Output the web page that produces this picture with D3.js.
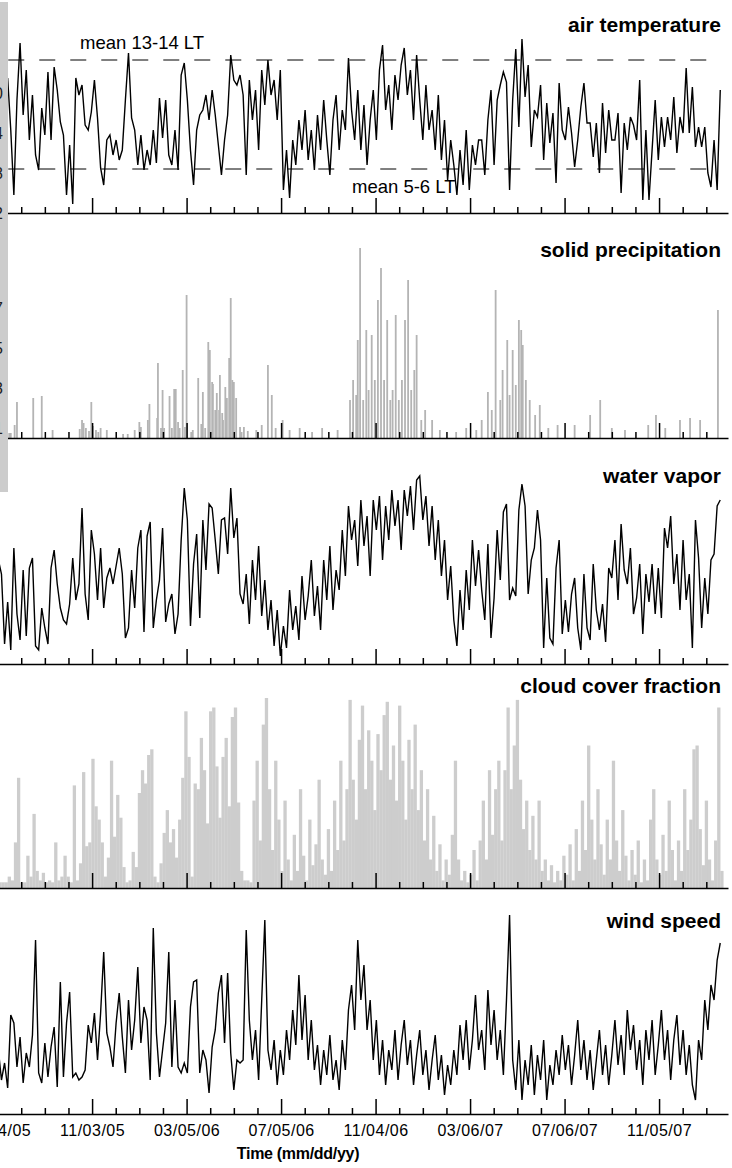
<!DOCTYPE html>
<meta charset="utf-8">

<!-- Load d3.js -->
<script src="https://d3js.org/d3.v7.min.js"></script>

<style>
  body { margin: 0; background: #fff; }
  svg text { font-family: "Liberation Sans", Arial, sans-serif; }
</style>

<!-- Create a div where the graph will take place -->
<div id="my_dataviz"></div>

<script>

// one sample every 4 days, first sample on 07/01/05
var startDate = "2005-07-01";
var stepDays = 4;

// air temperature (deg C)
var airTemp = [
  -2.7, -4.7, -1.7, -3.7, 1.5, -3.7, -10.2, -0.7, 5.0, -2.2,
  2.3, -4.7, -0.2, -6.2, -7.7, -1.5, -4.2, 2.1, -4.7, 2.6,
  0.3, -2.9, -4.2, -10.2, -5.2, -11.1, 1.5, -0.2, 0.8, -3.2,
  -3.7, -1.9, 1.3, -2.5, -7.5, -9.2, -4.7, -4.2, -6.2, -4.7,
  -6.7, -5.7, -0.7, 4.0, -2.5, -3.7, -7.2, -4.2, -7.7, -5.7,
  -7.2, -3.7, -7.0, -0.5, -4.5, -0.7, -6.2, -7.2, -3.7, -7.7,
  1.8, 3.0, -0.7, -5.7, -9.2, -3.7, -2.2, -1.7, -0.2, -2.7,
  0.3, -2.2, -5.2, -8.2, -4.7, -2.2, 3.8, 1.3, 0.8, 1.8,
  -0.2, -8.2, 1.3, -2.7, 0.3, -5.7, 2.3, -1.2, 3.3, -0.2,
  1.3, -2.7, 2.3, -9.7, -5.7, -10.5, -4.7, -7.2, -2.7, -5.7,
  -1.7, -6.7, -3.7, -7.7, -2.2, -5.7, -0.7, -4.7, -8.2, -2.7,
  -0.2, -5.7, -1.7, -3.7, 3.5, -1.7, -4.7, 0.3, -5.7, -1.2,
  -7.2, -2.7, 0.3, -4.7, 2.3, 4.8, -1.7, 0.8, -3.7, 1.8,
  -0.7, 2.8, 4.5, -0.2, 2.3, -2.7, 3.8, -0.7, -4.7, 0.8,
  -3.7, -1.7, -5.7, -0.2, -6.7, -2.7, -8.7, -4.7, -7.2, -10.2,
  -5.7, -9.2, -3.7, -9.7, -5.2, -7.2, -4.7, -4.7, -8.2, -2.7,
  0.3, -7.2, -0.7, 0.8, 2.1, 1.1, -9.7, -0.7, 4.4, -3.4,
  5.4, -0.4, 2.8, -5.4, -1.7, -2.4, 0.8, -6.7, -1.0, -5.0,
  -2.0, -9.0, 1.0, -3.7, -4.7, -1.4, -4.0, -7.4, -4.7, -1.4,
  1.0, -3.0, -3.0, -6.4, -3.0, -8.0, -1.0, -6.0, -1.7, -4.7,
  -4.7, -2.0, -10.0, -3.0, -5.7, -2.4, -3.2, -4.7, 1.3, -10.7,
  -3.7, -10.7, -5.7, -0.7, -6.7, -2.4, -5.4, -2.4, -4.7, -0.4,
  -6.0, -2.4, -4.0, 2.5, -4.0, 0.6, -5.4, -3.4, -5.4, -3.4,
  -8.0, -9.4, -4.7, -9.7, 0.3
];
var meanAfternoon = 3.3;   // mean 13-14 LT
var meanMorning = -7.6;    // mean 5-6 LT

// solid precipitation events: day after 07/01/05 and amount
var snowDay = [
  18, 20, 25, 28, 49, 60, 74, 109, 112, 114, 117, 121, 124, 126, 130, 133, 136, 144,
  165, 171, 180, 186, 188, 197, 199, 209, 210, 214, 216, 218, 225, 228, 231, 233, 236,
  238, 242, 245, 247, 253, 255, 262, 266, 268, 271, 275, 277, 280, 281, 284, 286, 289,
  290, 293, 294, 297, 299, 302, 304, 306, 308, 311, 316, 318, 321, 326, 337, 344, 352,
  357, 362, 371, 380, 393, 409, 422, 442, 458, 462, 466, 468, 471, 475, 479, 482, 486,
  490, 494, 498, 502, 506, 510, 513, 517, 521, 525, 529, 533, 537, 541, 544, 550, 555,
  564, 574, 595, 608, 621, 628, 636, 641, 646, 652, 655, 661, 664, 668, 672, 676, 679,
  681, 685, 690, 697, 703, 714, 726, 748, 768, 781, 796, 813, 843, 853, 865, 884, 897,
  910, 933
];
var snowAmount = [
  0.25, 0.25, 0.65, 1.8, 2.0, 2.1, 0.4, 0.45, 0.9, 0.75, 0.5, 0.35, 1.8, 0.6, 0.4, 0.3, 0.5, 0.4,
  0.2, 0.2, 0.4, 0.8, 0.55, 0.9, 1.7, 1.0, 3.75, 0.5, 2.4, 0.5, 2.1, 0.5, 2.45, 2.45, 0.8,
  0.5, 3.4, 0.55, 7.15, 0.3, 0.4, 3.0, 0.7, 2.3, 0.5, 4.8, 4.4, 2.8, 2.7, 1.4, 2.25, 1.4,
  3.15, 1.25, 0.9, 2.55, 2.0, 4.0, 7.0, 2.9, 2.8, 2.0, 0.55, 0.3, 0.55, 0.35, 0.4, 0.65, 3.65,
  2.15, 0.5, 0.9, 0.4, 0.5, 0.3, 0.5, 0.4, 1.9, 2.9, 2.15, 4.9, 9.5, 1.9, 5.4, 2.4, 5.15,
  2.9, 6.9, 8.5, 2.9, 5.9, 1.9, 2.4, 6.15, 1.9, 2.9, 5.9, 7.9, 2.4, 3.4, 5.15, 0.9, 1.4,
  0.9, 0.4, 0.3, 0.5, 0.4, 0.9, 2.3, 1.4, 7.4, 1.9, 3.4, 4.9, 2.15, 4.4, 2.65, 5.9, 5.4,
  4.65, 2.9, 1.9, 1.15, 1.65, 0.5, 0.65, 0.65, 1.15, 1.9, 0.5, 0.4, 0.65, 1.15, 0.5, 0.9, 1.0,
  0.9, 6.4
];

// water vapor (g/kg)
var waterVapor = [
  3.2, 5.2, 4.5, 1.0, 3.1, 0.7, 5.8, 2.5, 1.2, 4.7,
  1.4, 4.8, 5.3, 0.9, 0.7, 2.8, 1.8, 1.0, 4.8, 5.7,
  4.0, 2.8, 2.2, 2.0, 3.0, 5.3, 3.2, 4.0, 7.8, 3.5,
  2.2, 6.7, 5.5, 3.2, 5.8, 2.8, 4.3, 4.8, 4.0, 4.9,
  5.8, 4.5, 1.3, 1.8, 4.7, 2.8, 5.8, 6.7, 1.6, 6.4,
  7.1, 1.8, 3.2, 4.2, 6.8, 2.1, 3.0, 3.5, 1.5, 2.5,
  6.2, 8.8, 7.2, 1.9, 5.0, 6.5, 2.3, 7.2, 4.7, 8.0,
  7.8, 6.2, 4.5, 7.2, 7.3, 5.5, 8.8, 6.3, 7.3, 3.5,
  3.0, 4.5, 2.0, 5.2, 3.2, 5.9, 2.4, 4.2, 1.7, 3.2,
  0.9, 2.7, 0.4, 1.9, 0.8, 3.7, 1.7, 2.9, 1.2, 4.4,
  2.2, 3.4, 5.2, 2.4, 3.9, 1.7, 5.2, 3.2, 5.9, 2.7,
  4.7, 3.7, 6.7, 4.4, 7.9, 6.2, 7.2, 4.9, 8.2, 5.9,
  7.4, 4.4, 8.2, 6.7, 8.4, 5.2, 7.9, 6.2, 8.7, 6.9,
  8.2, 5.7, 8.7, 7.4, 8.9, 6.7, 9.2, 9.4, 7.2, 8.4,
  5.9, 7.9, 5.2, 7.2, 4.4, 6.2, 3.2, 4.9, 2.2, 0.9,
  3.7, 1.7, 4.7, 2.7, 6.2, 3.9, 5.7, 3.7, 2.2, 6.0,
  1.3, 3.3, 6.7, 4.2, 7.6, 8.0, 3.2, 3.8, 3.4, 7.7,
  9.0, 7.9, 3.5, 5.2, 5.8, 7.7, 6.2, 0.8, 4.3, 1.3,
  1.0, 4.8, 6.2, 1.5, 3.2, 1.6, 3.5, 4.3, 1.8, 0.7,
  4.5, 1.8, 1.2, 5.0, 2.7, 1.7, 3.0, 1.1, 4.8, 4.3,
  6.2, 3.2, 7.0, 4.7, 4.0, 5.8, 2.5, 3.3, 5.0, 1.5,
  4.5, 3.1, 5.0, 2.5, 4.8, 2.3, 6.8, 5.8, 7.4, 4.0,
  5.5, 2.7, 6.2, 3.2, 4.5, 0.8, 7.2, 5.3, 1.8, 4.3,
  2.5, 5.2, 5.5, 7.9, 8.2
];

// cloud cover fraction (0-1)
var cloudCover = [
  .04, .03, .03, .03, .06, .04, .24, .58, .03, .03,
  .17, .06, .39, .09, .04, .08, .03, .04, .03, .24,
  .04, .06, .17, .06, .03, .54, .04, .13, .61, .22,
  .24, .68, .43, .36, .24, .06, .16, .67, .27, .49,
  .37, .11, .03, .04, .19, .11, .50, .62, .55, .70,
  .73, .06, .03, .13, .29, .41, .24, .31, .16, .36,
  .58, .93, .69, .06, .55, .52, .79, .62, .34, .93,
  .95, .64, .37, .69, .79, .43, .90, .95, .45, .09,
  .04, .04, .03, .46, .67, .25, .86, 1.0, .52, .20,
  .67, .36, .09, .46, .15, .04, .28, .09, .52, .17,
  .04, .36, .12, .23, .57, .15, .07, .31, .09, .46,
  .20, .67, .25, .52, .99, .57, .36, .78, .96, .52,
  .83, .67, .41, .81, .62, .91, .98, .57, .75, .46,
  .96, .67, .36, .78, .52, .86, .41, .62, .25, .52,
  .15, .38, .09, .23, .04, .15, .07, .28, .67, .15,
  .04, .09, .03, .07, .20, .04, .25, .46, .15, .62,
  .28, .52, .67, .25, .62, .95, .52, .75, .99, .57,
  .31, .46, .20, .38, .15, .46, .09, .15, .04, .12,
  .03, .09, .04, .17, .07, .23, .04, .31, .09, .46,
  .20, .75, .36, .15, .52, .23, .07, .36, .15, .67,
  .25, .09, .41, .17, .04, .20, .07, .25, .03, .15,
  .04, .36, .52, .15, .07, .28, .09, .46, .20, .04,
  .25, .09, .52, .20, .36, .73, .75, .31, .12, .46,
  .15, .04, .25, .95, .09
];

// wind speed (m/s)
var windSpeed = [
  4.4, 6.4, 3.4, 5.1, 2.6, 9.9, 9.1, 4.7, 7.7, 3.1,
  6.1, 4.7, 7.9, 17.4, 4.1, 3.1, 7.1, 3.7, 6.7, 8.7,
  2.7, 13.2, 3.7, 9.1, 12.2, 3.7, 4.1, 3.4, 3.7, 4.4,
  8.9, 7.1, 10.1, 5.4, 10.1, 16.2, 8.1, 6.7, 4.7, 9.1,
  12.1, 7.7, 4.1, 11.4, 6.4, 9.4, 14.7, 7.1, 10.7, 9.4,
  3.4, 18.6, 8.1, 3.7, 6.4, 9.1, 16.2, 4.7, 11.4, 4.7,
  4.1, 5.1, 4.1, 10.7, 13.2, 13.4, 4.1, 6.4, 5.4, 2.1,
  6.7, 8.4, 12.1, 13.9, 7.1, 14.1, 6.1, 2.4, 5.4, 5.1,
  5.4, 18.4, 9.4, 5.4, 8.4, 3.4, 11.4, 19.4, 6.4, 4.4,
  7.4, 2.9, 6.4, 3.9, 8.4, 5.4, 10.4, 6.9, 13.9, 7.4,
  11.9, 5.4, 9.4, 4.4, 6.9, 2.9, 6.4, 3.9, 7.9, 3.4,
  5.4, 2.4, 7.4, 4.4, 10.4, 12.9, 8.4, 17.4, 11.4, 14.9,
  8.4, 11.4, 5.4, 9.4, 3.9, 7.4, 2.9, 6.4, 4.4, 8.4,
  3.4, 6.9, 9.4, 4.9, 7.4, 2.9, 5.9, 8.4, 3.9, 6.4,
  2.4, 5.4, 7.9, 3.4, 5.9, 1.9, 4.9, 2.9, 6.4, 3.9,
  8.9, 5.4, 9.4, 4.4, 7.4, 11.9, 6.4, 8.4, 4.4, 12.4,
  6.9, 10.4, 5.4, 8.4, 3.9, 11.4, 19.9, 5.4, 2.4, 7.4,
  1.4, 5.4, 2.9, 6.9, 1.9, 5.9, 3.4, 7.4, 1.4, 4.9,
  2.9, 6.4, 3.9, 7.9, 4.4, 6.9, 2.9, 5.9, 9.4, 4.4,
  7.4, 3.4, 6.4, 2.4, 5.4, 8.4, 3.9, 6.9, 2.9, 5.9,
  9.4, 4.9, 7.9, 3.9, 10.4, 6.4, 8.9, 4.4, 7.4, 2.9,
  8.4, 5.4, 9.4, 3.9, 6.9, 10.4, 5.4, 8.4, 3.4, 7.4,
  9.9, 4.9, 8.4, 3.9, 6.9, 2.9, 1.4, 7.4, 5.4, 11.4,
  8.4, 12.9, 11.4, 15.4, 17.1
];

// labelled dates on the time axis (every 122 days)
var dateLabels = ["07/04/05", "11/03/05", "03/05/06", "07/05/06", "11/04/06", "03/06/07", "07/06/07", "11/05/07"];

// setting the dimensions of the picture
var width = 732,
    height = 1168;

var svg = d3.select("#my_dataviz")
  .append("svg")
    .attr("width", width)
    .attr("height", height);

// Dates
var t0 = d3.timeParse("%Y-%m-%d")(startDate);
var dateOf = function(i) { return d3.timeDay.offset(t0, i * stepDays); };
var parseLabel = d3.timeParse("%m/%d/%y");
var majorDates = dateLabels.map(parseLabel);

// the figure is cropped: the first labelled date sits just left of the edge
var x = d3.scaleTime()
  .domain([majorDates[0], d3.timeDay.offset(majorDates[0], 943)])
  .range([-2.4, 728]);

// minor ticks every quarter of the 122-day step
var minorDates = [];
majorDates.forEach(function(d) {
  for (var k = 1; k < 4; k++) {
    var m = d3.timeHour.offset(d, 732 * k);
    if (x(m) <= 728) minorDates.push(m);
  }
});

// Panels
var panels = [
  { title: "air temperature", values: airTemp, kind: "line", titleY: 32,
    y: d3.scaleLinear().domain([-12, 0]).range([213, 93]), ticks: [-12, -8, -4, 0] },
  { title: "solid precipitation", kind: "snow", titleY: 257,
    y: d3.scaleLinear().domain([0, 10]).range([438, 238]), ticks: [0.5, 2.5, 4.5, 6.5] },
  { title: "water vapor", values: waterVapor, kind: "line", titleY: 483,
    y: d3.scaleLinear().domain([0, 10]).range([664, 464]) },
  { title: "cloud cover fraction", values: cloudCover, kind: "bars", titleY: 693,
    y: d3.scaleLinear().domain([0, 1]).range([888, 698]) },
  { title: "wind speed", values: windSpeed, kind: "line", titleY: 928,
    y: d3.scaleLinear().domain([0, 20]).range([1114, 914]) }
];

panels.forEach(function(p, pi) {
  var y = p.y;
  var base = y.range()[0];
  var g = svg.append("g");

  if (p.kind === "line") {
    var line = d3.line()
      .x(function(d, i) { return x(dateOf(i)); })
      .y(function(d) { return y(d); });
    g.append("path")
      .datum(p.values)
      .attr("d", line)
      .attr("fill", "none")
      .attr("stroke", "#000")
      .attr("stroke-width", 1.4);
  }

  if (p.kind === "bars") {
    g.selectAll("rect")
      .data(p.values)
      .enter()
      .append("rect")
        .attr("x", function(d, i) { return x(dateOf(i)); })
        .attr("width", function(d, i) { return x(dateOf(i + 1)) - x(dateOf(i)) + 0.2; })
        .attr("y", function(d) { return y(d); })
        .attr("height", function(d) { return base - y(d); })
        .attr("fill", "#cdcdcd");
  }

  if (p.kind === "snow") {
    g.selectAll("rect")
      .data(snowDay)
      .enter()
      .append("rect")
        .attr("x", function(d) { return x(d3.timeDay.offset(t0, d)) - 0.9; })
        .attr("width", 1.8)
        .attr("y", function(d, i) { return y(snowAmount[i]); })
        .attr("height", function(d, i) { return base - y(snowAmount[i]); })
        .attr("fill", "#b4b4b4");
  }

  // dashed lines of the mean daily extremes
  if (pi === 0) {
    var xs = [x(dateOf(0)), x(dateOf(airTemp.length - 1))];
    [meanAfternoon, meanMorning].forEach(function(m) {
      g.append("line")
        .attr("x1", xs[0]).attr("x2", xs[1])
        .attr("y1", y(m)).attr("y2", y(m))
        .attr("stroke", "#000")
        .attr("stroke-width", 1)
        .attr("stroke-dasharray", "16,15")
        .attr("stroke-dashoffset", 18);
    });
    g.append("text")
      .attr("x", 80).attr("y", y(meanAfternoon) - 11)
      .style("font-size", "18.5px")
      .text("mean 13-14 LT");
    g.append("text")
      .attr("x", 352).attr("y", y(meanMorning) + 24)
      .style("font-size", "18.5px")
      .text("mean 5-6 LT");
  }

  // time axis, ticks pointing up into the panel
  var last = pi === panels.length - 1;
  var major = g.append("g")
    .attr("transform", "translate(0," + base + ")")
    .call(d3.axisBottom(x)
      .tickValues(majorDates)
      .tickSizeInner(-15)
      .tickSizeOuter(0)
      .tickPadding(11)
      .tickFormat(last ? d3.timeFormat("%m/%d/%y") : ""));
  major.selectAll("text")
    .style("font-size", "16px")
    .style("letter-spacing", "0.5px")
    .attr("fill", "#000");
  major.select(".domain").attr("stroke-width", 1.5);
  major.selectAll(".tick line").attr("stroke-width", 1.5);

  g.append("g")
    .attr("transform", "translate(0," + base + ")")
    .call(d3.axisBottom(x)
      .tickValues(minorDates)
      .tickSizeInner(-6)
      .tickSizeOuter(0)
      .tickFormat(""))
    .call(function(a) { a.select(".domain").remove(); })
    .selectAll(".tick line").attr("stroke-width", 1.5);
});

// grey strip along the cut left edge of the upper panels
svg.append("rect")
  .attr("x", 0).attr("y", 2)
  .attr("width", 8).attr("height", 490)
  .attr("fill", "#cccccc");

// remains of the value axes, cut by the left edge
panels.forEach(function(p) {
  if (!p.ticks) return;
  svg.append("g")
    .attr("transform", "translate(3,0)")
    .call(d3.axisLeft(p.y).tickValues(p.ticks).tickSize(0).tickPadding(0))
    .call(function(a) { a.select(".domain").remove(); })
    .selectAll("text")
      .style("font-size", "16px")
      .attr("fill", "#222");
});

// Panel titles
panels.forEach(function(p) {
  svg.append("text")
    .attr("x", 721)
    .attr("y", p.titleY)
    .attr("text-anchor", "end")
    .style("font-size", "21px")
    .style("font-weight", "bold")
    .text(p.title);
});

// X axis title
svg.append("text")
  .attr("x", 298)
  .attr("y", 1159)
  .attr("text-anchor", "middle")
  .style("font-size", "16px")
  .style("font-weight", "bold")
  .style("letter-spacing", "-0.3px")
  .text("Time (mm/dd/yy)");

</script>
